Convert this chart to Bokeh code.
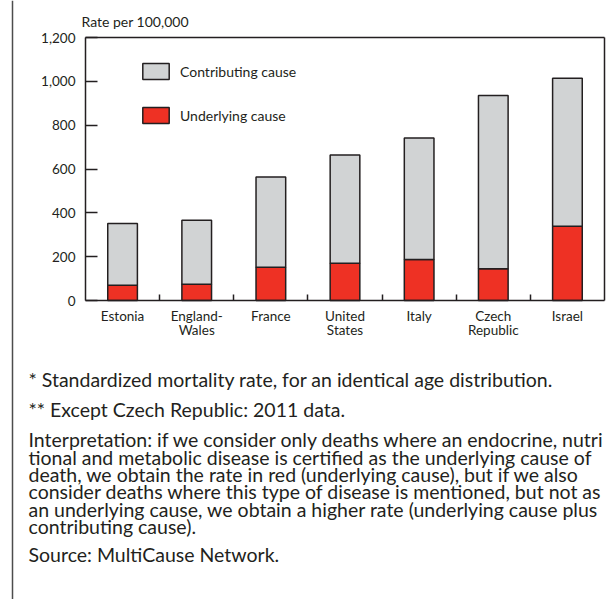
from bokeh.plotting import figure
from bokeh.models import (Range1d, FixedTicker, NumeralTickFormatter, Label, Legend,
                          LegendItem, BoxAnnotation, ColumnDataSource, LinearAxis)
from bokeh.embed import file_html
from bokeh.resources import INLINE

# ---- data ----
countries = ["Estonia", "England-\nWales", "France", "United\nStates", "Italy",
             "Czech\nRepublic", "Israel"]
underlying = [70, 74, 152, 170, 187, 145, 339]
total = [351, 366, 564, 664, 742, 935, 1014]
y_ticks = [0, 200, 400, 600, 800, 1000, 1200]
series_names = ["Contributing cause", "Underlying cause"]
y_title = "Rate per 100,000"
note_lines = [
    "* Standardized mortality rate, for an identical age distribution.",
    "** Except Czech Republic: 2011 data.",
    "Interpretation: if we consider only deaths where an endocrine, nutri",
    "tional and metabolic disease is certified as the underlying cause of",
    "death, we obtain the rate in red (underlying cause), but if we also",
    "consider deaths where this type of disease is mentioned, but not as",
    "an underlying cause, we obtain a higher rate (underlying cause plus",
    "contributing cause).",
    "Source: MultiCause Network.",
]

# ---- layout constants (pixels) ----
W, H = 608, 599
PL, PR, PT, PB = 85, 604, 37, 300          # plot box edges
note_top = [379, 409, 439, 456.5, 474, 491.3, 508.6, 526, 554]   # line centres
NOTE_X = 28

FONT = "Lato"
INK = "#231f20"
RED = "#ee3124"
GRAY = "#d1d3d4"

n = len(countries)
xs = list(range(n))
YMAX = y_ticks[-1]
xpx = (PR - PL) / n              # px per category
ypx = (PB - PT) / YMAX           # px per unit
x0 = -0.5 - PL / xpx
x1 = (n - 0.5) + (W - PR) / xpx
y0 = -(H - PB) / ypx
y1 = YMAX + PT / ypx

src = ColumnDataSource(dict(x=xs, underlying=underlying, total=total))

p = figure(width=W, height=H, output_backend="svg", toolbar_location=None,
           x_range=Range1d(x0, x1), y_range=Range1d(y0, y1),
           x_axis_location=None, y_axis_location=None,
           min_border=0, min_border_left=0, min_border_right=0,
           min_border_top=0, min_border_bottom=0)
p.grid.visible = False
p.outline_line_color = None
p.background_fill_color = "white"
p.border_fill_color = "white"

r_under = p.vbar(x="x", bottom=0, top="underlying", width=0.4, source=src,
                 fill_color=RED, line_color=INK, line_width=1.5)
r_contrib = p.vbar(x="x", bottom="underlying", top="total", width=0.4, source=src,
                   fill_color=GRAY, line_color=INK, line_width=1.5)

# x axis
xa = LinearAxis(fixed_location=0, bounds=(-0.5, n - 0.5))
xa.ticker = FixedTicker(ticks=xs, minor_ticks=[i + 0.5 for i in xs[:-1]])
xa.major_label_overrides = {i: c for i, c in enumerate(countries)}
xa.major_tick_line_color = None
xa.minor_tick_in = 6
xa.minor_tick_out = 0
xa.minor_tick_line_color = INK
xa.minor_tick_line_width = 1.5
xa.axis_line_color = INK
xa.axis_line_width = 1.5
xa.major_label_text_font = FONT
xa.major_label_text_font_size = "13.5px"
xa.major_label_text_color = INK
xa.major_label_text_line_height = 0.88
xa.major_label_standoff = 1
p.add_layout(xa, "below")

# y axis
ya = LinearAxis(fixed_location=-0.5, bounds=(0, YMAX))
ya.ticker = FixedTicker(ticks=y_ticks)
ya.formatter = NumeralTickFormatter(format="0,0")
ya.major_tick_in = 12
ya.major_tick_out = 0
ya.major_tick_line_color = INK
ya.major_tick_line_width = 1.5
ya.minor_tick_line_color = None
ya.axis_line_color = INK
ya.axis_line_width = 1.5
ya.major_label_text_font = FONT
ya.major_label_text_font_size = "13.5px"
ya.major_label_text_color = INK
ya.major_label_standoff = 10
p.add_layout(ya, "left")

# box top and right edges
ta = LinearAxis(fixed_location=YMAX, bounds=(-0.5, n - 0.5), ticker=FixedTicker(ticks=[]),
                axis_line_color=INK, axis_line_width=1.5, major_tick_line_color=None,
                minor_tick_line_color=None, major_label_text_alpha=0)
p.add_layout(ta, "above")
ra = LinearAxis(fixed_location=n - 0.5, bounds=(0, YMAX), ticker=FixedTicker(ticks=[]),
                axis_line_color=INK, axis_line_width=1.5, major_tick_line_color=None,
                minor_tick_line_color=None, major_label_text_alpha=0)
p.add_layout(ra, "right")

# legend
legend = Legend(items=[LegendItem(label=series_names[0], renderers=[r_contrib]),
                       LegendItem(label=series_names[1], renderers=[r_under])],
                location=(139, H - 61 - 64), glyph_width=33, glyph_height=20,
                label_height=20, spacing=24, label_standoff=8, padding=0, margin=0,
                border_line_alpha=0, background_fill_alpha=0,
                label_text_font=FONT, label_text_font_size="14px",
                label_text_baseline="top", label_text_color=INK)
p.add_layout(legend)

# y axis title
p.add_layout(Label(x=81, y=H - 21, x_units="screen", y_units="screen", text=y_title,
                   text_font=FONT, text_font_size="14px", text_color=INK,
                   text_baseline="middle", text_align="left"))

# notes
for t, yy in zip(note_lines, note_top):
    p.add_layout(Label(x=NOTE_X, y=H - yy, x_units="screen", y_units="screen", text=t,
                       text_font=FONT, text_font_size="19.5px", text_color=INK,
                       text_baseline="middle", text_align="left"))

# left border line
p.add_layout(BoxAnnotation(left=11.25, right=12.75, left_units="screen",
                           right_units="screen", fill_color="#4d4d4d",
                           fill_alpha=1, line_alpha=0))

open("out.html", "w").write(file_html(p, INLINE))
